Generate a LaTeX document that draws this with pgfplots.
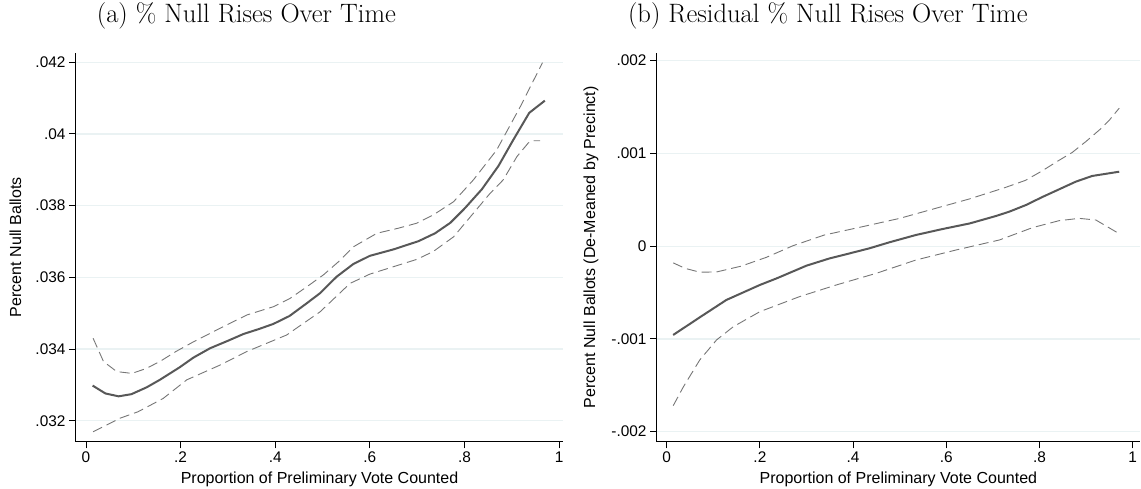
\documentclass[border=0pt]{standalone}
\usepackage{fontspec}
\usepackage{pgfplots}
\pgfplotsset{compat=1.18}
\newfontfamily\arial{Liberation Sans}
\definecolor{gridc}{RGB}{234,242,243}
\definecolor{mainc}{RGB}{88,88,88}
\definecolor{dashc}{RGB}{118,118,118}

\pgfplotstableread{
x y
0.014 0.03298
0.041 0.03276
0.069 0.03268
0.096 0.03274
0.128 0.03293
0.156 0.03314
0.198 0.03349
0.227 0.03376
0.262 0.03402
0.300 0.03423
0.333 0.03442
0.366 0.03456
0.396 0.03470
0.430 0.03492
0.467 0.03528
0.495 0.03556
0.530 0.03602
0.565 0.03637
0.600 0.03660
0.650 0.03678
0.703 0.03701
0.738 0.03723
0.770 0.03752
0.801 0.03793
0.837 0.03846
0.872 0.03911
0.903 0.03983
0.937 0.04059
0.970 0.04093
}\amain
\pgfplotstableread{
x y
0.015 0.03430
0.037 0.03365
0.065 0.03337
0.097 0.03332
0.126 0.03345
0.156 0.03365
0.190 0.03393
0.227 0.03420
0.276 0.03453
0.340 0.03495
0.396 0.03518
0.431 0.03541
0.465 0.03572
0.502 0.03607
0.535 0.03645
0.565 0.03685
0.615 0.03723
0.660 0.03737
0.699 0.03751
0.734 0.03774
0.777 0.03811
0.819 0.03872
0.868 0.03955
0.918 0.04076
0.965 0.04199
}\aupper
\pgfplotstableread{
x y
0.015 0.03169
0.072 0.03207
0.110 0.03225
0.163 0.03262
0.213 0.03314
0.283 0.03355
0.340 0.03393
0.424 0.03439
0.495 0.03504
0.558 0.03583
0.600 0.03609
0.699 0.03650
0.734 0.03672
0.777 0.03713
0.819 0.03779
0.854 0.03834
0.882 0.03872
0.911 0.03937
0.935 0.03975
0.942 0.03981
0.960 0.03981
}\alower
\pgfplotstableread{
x y
0.014 -0.000957
0.071 -0.000767
0.128 -0.000580
0.200 -0.000418
0.236 -0.000347
0.300 -0.000210
0.350 -0.000131
0.393 -0.000077
0.435 -0.000023
0.478 0.000042
0.535 0.000121
0.592 0.000185
0.650 0.000245
0.707 0.000326
0.735 0.000372
0.771 0.000444
0.806 0.000530
0.878 0.000696
0.913 0.000757
0.971 0.000803
}\bmain
\pgfplotstableread{
x y
0.014 -0.000180
0.040 -0.000240
0.071 -0.000280
0.107 -0.000278
0.160 -0.000215
0.214 -0.000120
0.271 0.000005
0.338 0.000120
0.420 0.000210
0.500 0.000300
0.575 0.000405
0.650 0.000510
0.725 0.000630
0.770 0.000710
0.805 0.000810
0.840 0.000920
0.870 0.001010
0.900 0.001130
0.930 0.001260
0.950 0.001360
0.971 0.001488
}\bupper
\pgfplotstableread{
x y
0.014 -0.001720
0.036 -0.001515
0.071 -0.001227
0.107 -0.001011
0.143 -0.000868
0.200 -0.000706
0.285 -0.000544
0.364 -0.000418
0.450 -0.000292
0.535 -0.000149
0.621 -0.000041
0.714 0.000067
0.785 0.000200
0.842 0.000275
0.885 0.000300
0.921 0.000282
0.967 0.000146
}\blower

\pgfplotsset{
  statastyle/.style={
    scale only axis,
    height=389pt,
    axis x line*=bottom, axis y line*=left,
    axis line style={-, black, line width=1.1pt},
    tick align=outside, major tick length=6.7pt,
    tick style={black, line width=1pt},
    ymajorgrids, major grid style={gridc, line width=1.3pt},
    ticklabel style={font=\arial\fontsize{15.4}{16}\selectfont},
    label style={font=\arial\fontsize{16}{18}\selectfont},
    xtick={0,0.2,0.4,0.6,0.8,1},
    xticklabels={0,.2,.4,.6,.8,1},
    scaled x ticks=false, scaled y ticks=false,
    xlabel={Proportion of Preliminary Vote Counted},
    xlabel style={at={(axis description cs:0.5,-0.107)}, anchor=base},
    title style={font=\fontsize{26.6}{30}\selectfont, anchor=base},
    mainline/.style={mainc, line width=2pt},
    dashline/.style={dashc, line width=0.9pt, dash pattern=on 10pt off 5pt},
  }
}

\begin{document}
\begin{tikzpicture}
\useasboundingbox (0pt,0pt) rectangle (1141pt,-489pt);
\begin{axis}[statastyle,
  at={(75.7pt,-441.7pt)}, anchor=south west,
  width=487.6pt,
  xmin=-0.0218, xmax=1.009,
  ymin=0.031414, ymax=0.042268,
  ytick={0.032,0.034,0.036,0.038,0.040,0.042},
  yticklabels={.032,.034,.036,.038,.04,.042},
  ylabel={Percent Null Ballots},
  ylabel style={at={(axis description cs:-0.1235,0.5)}, anchor=center},
  title={(a) \% Null Rises Over Time},
  title style={at={(axis description cs:0.350,1.0625)}},
]
\addplot[dashline] table {\aupper};
\addplot[dashline] table {\alower};
\addplot[mainline] table {\amain};
\end{axis}
\begin{axis}[statastyle,
  at={(656.7pt,-441.7pt)}, anchor=south west,
  width=483.3pt,
  xmin=-0.0214, xmax=1.0156,
  ymin=-0.002108, ymax=0.002086,
  ytick={-0.002,-0.001,0,0.001,0.002},
  yticklabels={-.002,-.001,0,.001,.002},
  ylabel={Percent Null Ballots (De-Meaned by Precinct)},
  ylabel style={at={(axis description cs:-0.136,0.5)}, anchor=center},
  title={(b) Residual \% Null Rises Over Time},
  title style={at={(axis description cs:0.354,1.0625)}},
]
\addplot[dashline] table {\bupper};
\addplot[dashline] table {\blower};
\addplot[mainline] table {\bmain};
\end{axis}
\end{tikzpicture}
\end{document}
